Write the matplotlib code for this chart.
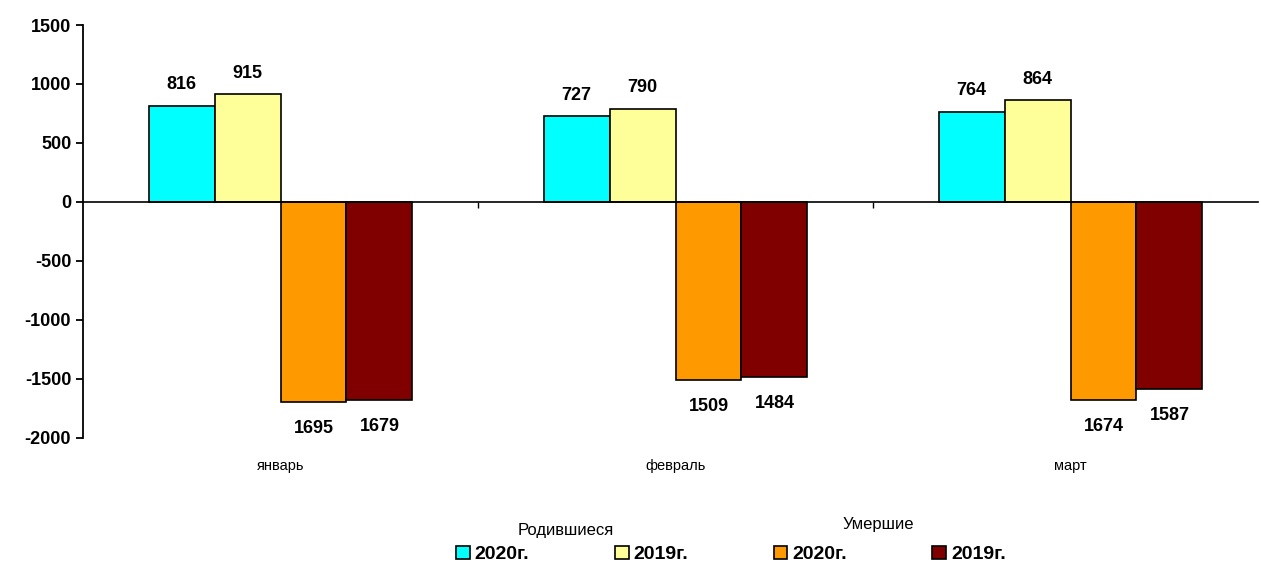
import matplotlib.pyplot as plt
import numpy as np

plt.rcParams['font.family'] = ['Liberation Sans', 'DejaVu Sans']
plt.rcParams['axes.unicode_minus'] = False

months = ['январь', 'февраль', 'март']
born_2020 = [816, 727, 764]
born_2019 = [915, 790, 864]
died_2020 = [-1695, -1509, -1674]
died_2019 = [-1679, -1484, -1587]

series = [born_2020, born_2019, died_2020, died_2019]
labels = ['2020г.', '2019г.', '2020г.', '2019г.']
colors = ['#00FFFF', '#FFFF99', '#FF9900', '#800000']

fig = plt.figure(figsize=(12.61, 5.64), dpi=100)
ax = fig.add_axes([83 / 1261, 1 - 438 / 564, 1175 / 1261, 413 / 564])

x = np.arange(len(months))
w = 0.167
bars = []
for i, (vals, col, lab) in enumerate(zip(series, colors, labels)):
    b = ax.bar(x + (i - 1.5) * w, vals, w, color=col, edgecolor='black', linewidth=1.2, label=lab, zorder=3)
    bars.append(b)
    for xi, v in zip(x + (i - 1.5) * w, vals):
        if v >= 0:
            ax.annotate(str(abs(v)), (xi, v), xytext=(0, 9), textcoords='offset points',
                        ha='center', va='bottom', fontsize=13, fontweight='bold')
        else:
            ax.annotate(str(abs(v)), (xi, v), xytext=(0, -13), textcoords='offset points',
                        ha='center', va='top', fontsize=13, fontweight='bold')

ax.set_ylim(-2000, 1500)
ax.set_yticks(np.arange(-2000, 1501, 500))
ax.set_xlim(-0.5, 2.5 - 10 / 395)

ax.spines['top'].set_visible(False)
ax.spines['right'].set_visible(False)
ax.spines['bottom'].set_position(('data', 0))
ax.spines['bottom'].set_zorder(4)
ax.spines['left'].set_linewidth(1.3)
ax.spines['bottom'].set_linewidth(1.2)

ax.set_xticks([0.5, 1.5])
ax.set_xticklabels([])
ax.tick_params(axis='x', direction='out', length=4, width=1)
ax.tick_params(axis='y', direction='out', length=5, width=1.3, labelsize=13)
for t in ax.get_yticklabels():
    t.set_fontweight('bold')

for xi, m in zip(x, months):
    ax.text(xi, -2240, m, ha='center', va='center', fontsize=10.5, clip_on=False)

fig.legend(handles=bars, labels=labels, loc='lower center', bbox_to_anchor=(731 / 1261, -0.03),
           ncol=4, frameon=False, handlelength=0.7, handleheight=0.7, handletextpad=0.25,
           columnspacing=4.4, prop={'weight': 'bold', 'size': 14})
fig.text(566 / 1261, 1 - 531 / 564, 'Родившиеся', ha='center', va='center', fontsize=12)
fig.text(878 / 1261, 1 - 525 / 564, 'Умершие', ha='center', va='center', fontsize=12)

fig.savefig('out.png', dpi=100)
